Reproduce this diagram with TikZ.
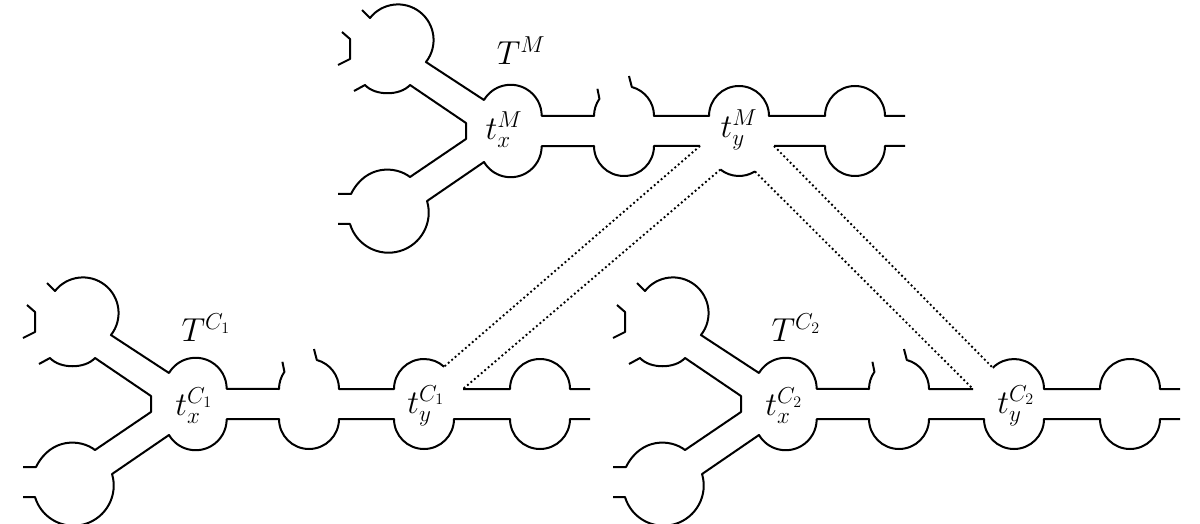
\documentclass[tikz,border=0pt]{standalone}
\begin{document}
\newcommand{\treeCommon}{%
  \draw[tube] (-169,-99)--(-161,-92)--(-161,-72)--(-173,-66);
  \draw[tube] (-149,-121)--(-141,-113) arc[start angle=218.2,end angle=398.2,radius=35.6] -- (-27,-31)
     arc[start angle=210.6,end angle=360,radius=31] -- (83,-15) arc[start angle=180,end angle=215,radius=30] -- ++(-2,-10);
  \draw[tube] (-157,-40) -- (-146,-46) .. controls (-136,-35) and (-111,-35) .. (-101,-46) -- (-45,-8) -- (-45,8)
     -- (-101,46) .. controls (-115,35) and (-145,33) .. (-160,63) -- (-173,63);
}
\newcommand{\upperStart}{(118,-55)--(120.8,-44) arc[start angle=285,end angle=360,radius=30] -- (143,-15)}
\newcommand{\lowerStart}{(-173,93)--(-161,93) arc[start angle=163.4,end angle=-16.6,radius=40.2] -- (-27,31)
     arc[start angle=149.4,end angle=0,radius=31] -- (83,15) arc[start angle=180,end angle=0,radius=30] -- (143,15)}
\newcommand{\tailUp}{-- (314,-15) arc[start angle=180,end angle=360,radius=30] -- (394,-15)}
\newcommand{\tailLow}{-- (314,15) arc[start angle=180,end angle=0,radius=30] -- (394,15)}
\begin{tikzpicture}[x=0.75pt,y=-0.75pt,
  tube/.style={line width=1.5pt,line join=round},
  link/.style={dotted,line width=1.4pt},
  lbl/.style={font=\fontsize{25}{28}\selectfont,inner sep=0pt}]
\useasboundingbox (0,0) rectangle (1200,524);
% tree M
\begin{scope}[shift={(511,131)}]
  \treeCommon
  \draw[tube] \upperStart -- (198,-15) arc[start angle=180,end angle=360,radius=30] \tailUp;
  \draw[tube] \lowerStart -- (189,15) coordinate (Ma);
  \draw[tube] (209.4,38.5) coordinate (Mb) arc[start angle=128.4,end angle=58,radius=30] coordinate (Mc);
  \draw[tube] (263,15) coordinate (Md) \tailLow;
  \node[lbl] (MT) at (10,-80) {$T^{M}$};
  \node[lbl] (Mx) at (-7,-1) {$t_x^{M}$};
  \node[lbl] (My) at (228,-1) {$t_y^{M}$};
\end{scope}
% tree C1
\begin{scope}[shift={(196,404)}]
  \treeCommon
  \draw[tube] \upperStart -- (198,-15) arc[start angle=180,end angle=312,radius=30] coordinate (C1a);
  \draw[tube] (267,-15) coordinate (C1b) \tailUp;
  \draw[tube] \lowerStart -- (198,15) arc[start angle=180,end angle=0,radius=30] \tailLow;
  \node[lbl] (C1T) at (10,-76) {$T^{C_1}$};
  \node[lbl] (C1x) at (-2,2) {$t_x^{C_1}$};
  \node[lbl] (C1y) at (230,2) {$t_y^{C_1}$};
\end{scope}
% tree C2
\begin{scope}[shift={(786,404)}]
  \treeCommon
  \draw[tube] \upperStart -- (187,-15) coordinate (C2a);
  \draw[tube] (206.8,-36.2) coordinate (C2b) arc[start angle=225,end angle=360,radius=30] \tailUp;
  \draw[tube] \lowerStart -- (198,15) arc[start angle=180,end angle=0,radius=30] \tailLow;
  \node[lbl] (C2T) at (10,-76) {$T^{C_2}$};
  \node[lbl] (C2x) at (-2,2) {$t_x^{C_2}$};
  \node[lbl] (C2y) at (230,2) {$t_y^{C_2}$};
\end{scope}
\draw[link] (Ma) -- (C1a);
\draw[link] (Mb) -- (C1b);
\draw[link] (Mc) -- (C2a);
\draw[link] (Md) -- (C2b);
\end{tikzpicture}
\end{document}
